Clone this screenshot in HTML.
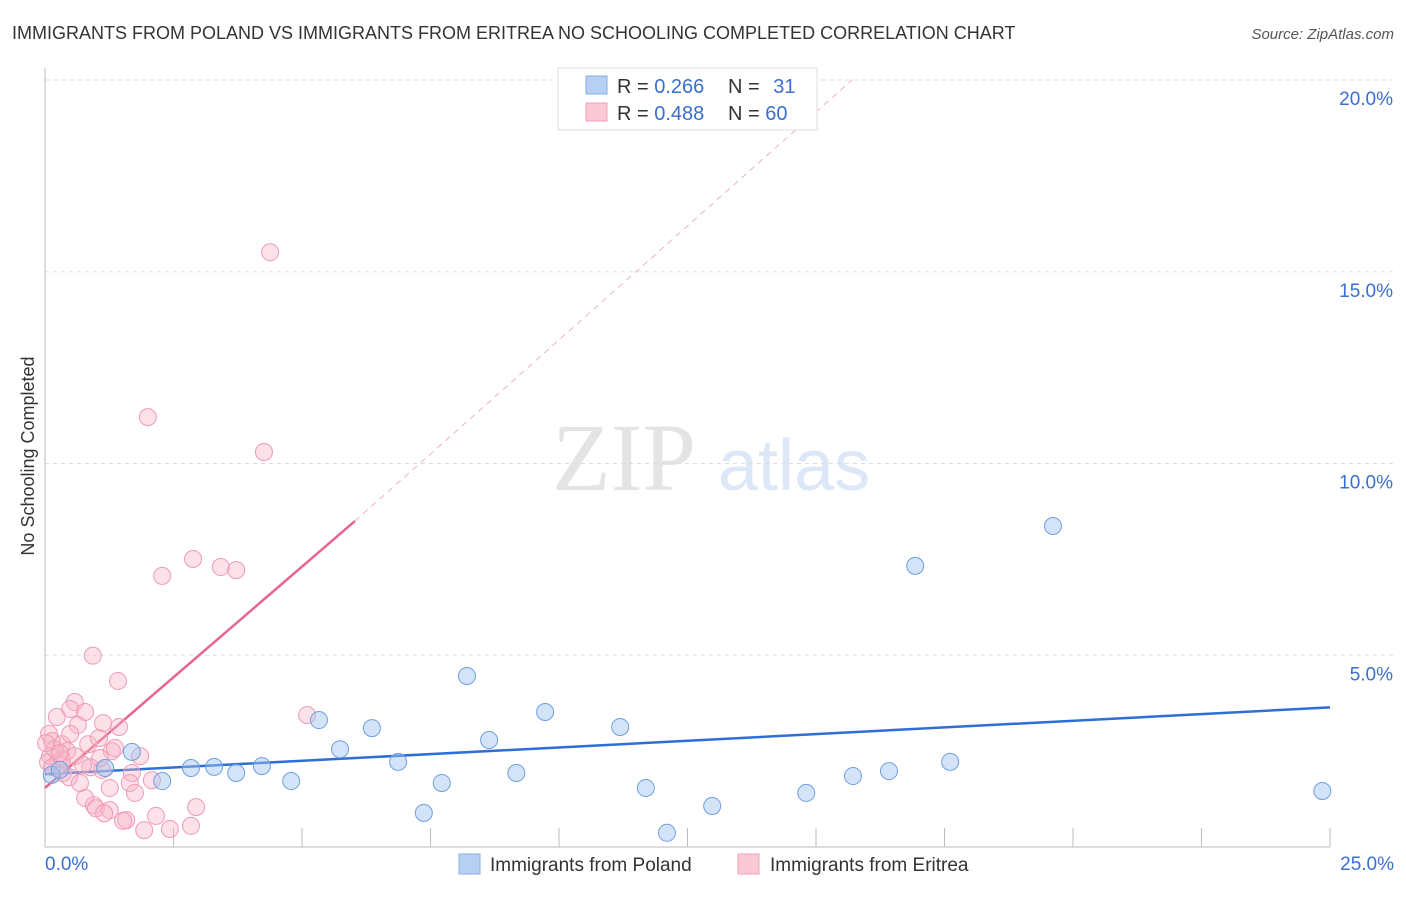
<!DOCTYPE html>
<html><head><meta charset="utf-8"><style>
body{margin:0;background:#fff;font-family:"Liberation Sans",sans-serif;}
svg text{font-family:"Liberation Sans",sans-serif;}
</style></head><body>
<svg id="chart" width="1406" height="892">
<text x="12" y="39" font-size="18" fill="#333">IMMIGRANTS FROM POLAND VS IMMIGRANTS FROM ERITREA NO SCHOOLING COMPLETED CORRELATION CHART</text>
<text x="1394" y="39" font-size="15" fill="#555" font-style="italic" text-anchor="end">Source: ZipAtlas.com</text>
<text x="34" y="456" font-size="18" fill="#333" text-anchor="middle" transform="rotate(-90 34 456)">No Schooling Completed</text>
<g>
<text x="552" y="490" font-size="96" fill="#e4e4e4" font-family="Liberation Serif" style="font-family:'Liberation Serif',serif">ZIP</text>
<text x="718" y="490" font-size="72" fill="#dce7f7">atlas</text>
</g>
<g id="grid"></g><g id="axes"></g><g id="lines"></g><g id="points"></g>
<g>
<rect x="558" y="68" width="259" height="62" fill="#fff" stroke="#ddd"/>
<rect x="586" y="76" width="21" height="18" fill="#b6d0f3" stroke="#84aee6"/>
<rect x="586" y="103" width="21" height="18" fill="#fbc8d6" stroke="#f0a0b8"/>
<text x="617" y="93" font-size="20" fill="#333">R = <tspan fill="#3a6fd0">0.266</tspan></text>
<text x="728" y="93" font-size="20" fill="#333">N = <tspan fill="#3a6fd0" dx="8">31</tspan></text>
<text x="617" y="120" font-size="20" fill="#333">R = <tspan fill="#3a6fd0">0.488</tspan></text>
<text x="728" y="120" font-size="20" fill="#333">N = <tspan fill="#3a6fd0">60</tspan></text>
</g>
<g>
<rect x="459" y="854" width="21" height="20" fill="#b6d0f3" stroke="#84aee6"/>
<text x="490" y="871" font-size="19" fill="#333">Immigrants from Poland</text>
<rect x="738" y="854" width="21" height="20" fill="#fbc8d6" stroke="#f0a0b8"/>
<text x="770" y="871" font-size="19" fill="#333">Immigrants from Eritrea</text>
</g>
</svg>
<script>
const yTicks=[5,10,15,20];
const yTickLabels=["5.0%","10.0%","15.0%","20.0%"];
const xTickLabels=["0.0%","25.0%"];
const polandX=[0.13,0.29,1.17,1.69,2.28,2.84,3.29,3.72,4.22,4.79,5.33,5.74,6.36,6.87,7.37,7.72,8.21,8.64,9.17,9.73,11.19,11.69,12.10,12.98,14.81,15.72,16.42,16.93,17.61,19.61,24.85];
const polandY=[1.88,2.01,2.06,2.48,1.72,2.06,2.09,1.93,2.11,1.72,3.31,2.55,3.10,2.22,0.89,1.67,4.46,2.79,1.93,3.52,3.13,1.54,0.37,1.07,1.41,1.85,1.98,7.33,2.22,8.37,1.46];
const eritreaX=[4.38,2.00,4.26,2.88,3.42,3.72,2.28,0.93,1.42,0.58,5.10,1.44,0.49,0.23,0.78,1.13,0.64,0.08,0.14,0.33,0.84,1.05,1.30,1.85,0.10,0.25,0.43,0.58,0.88,1.11,0.74,0.06,0.14,0.35,0.47,1.69,1.65,2.08,1.26,0.78,0.95,0.99,1.26,1.15,1.75,1.58,1.52,1.93,2.16,2.43,2.94,2.84,0.33,0.19,0.68,1.36,0.49,1.07,0.02,0.29];
const eritreaY=[15.51,11.21,10.30,7.51,7.30,7.22,7.07,4.99,4.33,3.78,3.44,3.13,3.60,3.39,3.52,3.23,3.18,2.95,2.76,2.68,2.68,2.84,2.50,2.37,2.37,2.21,2.50,2.37,2.08,2.01,2.14,2.21,2.08,1.93,1.82,1.93,1.67,1.74,1.54,1.28,1.09,1.01,0.96,0.88,1.41,0.70,0.68,0.44,0.81,0.47,1.04,0.55,2.29,2.55,1.67,2.58,2.95,2.32,2.71,2.45];
const polandTrend=[0,1.90,25,3.64];
const eritreaTrend=[0,1.54,6.03,8.50,15.7,20.0];
const X0=45,X1=1330,Y0=847,PXY=38.35;
const sx=v=>X0+(v/25)*(X1-X0), sy=v=>Y0-v*PXY;
const NS="http://www.w3.org/2000/svg";
function mk(tag,attrs,parent){const e=document.createElementNS(NS,tag);for(const k in attrs)e.setAttribute(k,attrs[k]);document.getElementById(parent).appendChild(e);return e;}
yTicks.forEach((t,i)=>{
 const g=mk('line',{x1:X0,x2:1394,y1:sy(t),y2:sy(t),stroke:'#ddd','stroke-dasharray':'4,4'},'grid');
 
 
 const l=mk('text',{x:1393,y:sy(t)+25,'font-size':19,fill:'#3a6fd0','text-anchor':'end'},'grid');
 l.textContent=yTickLabels[i];
 
 
});
const ax=mk('line',{x1:X0,x2:X0,y1:68,y2:Y0,stroke:'#bbb'},'axes');


const bx=mk('line',{x1:X0,x2:X1,y1:Y0,y2:Y0,stroke:'#bbb'},'axes');


for(let i=1;i<=10;i++){const t=mk('line',{x1:sx(i*2.5),x2:sx(i*2.5),y1:828,y2:Y0,stroke:'#bbb'},'axes');
 
 }
[[0,'start',45],[25,'end',1394]].forEach((d,i)=>{const t=mk('text',{x:d[2],y:870,'font-size':19,fill:'#3a6fd0','text-anchor':d[1]},'axes');t.textContent=xTickLabels[i];
 
 });
const pl=mk('line',{x1:sx(polandTrend[0]),y1:sy(polandTrend[1]),x2:sx(polandTrend[2]),y2:sy(polandTrend[3]),stroke:'#2e6fd6','stroke-width':2.5},'lines');


const el=mk('line',{x1:sx(eritreaTrend[0]),y1:sy(eritreaTrend[1]),x2:sx(eritreaTrend[2]),y2:sy(eritreaTrend[3]),stroke:'#e8658e','stroke-width':2.5},'lines');


const ed=mk('line',{x1:sx(eritreaTrend[2]),y1:sy(eritreaTrend[3]),x2:sx(eritreaTrend[4]),y2:sy(eritreaTrend[5]),stroke:'#eeb0c4','stroke-width':1,'stroke-dasharray':'6,5'},'lines');


eritreaX.forEach((v,i)=>{const c=mk('circle',{cx:sx(v),cy:sy(eritreaY[i]),r:8.5,fill:'rgba(248,180,200,0.4)',stroke:'#ef9ab4','stroke-width':1},'points');
 
 });
polandX.forEach((v,i)=>{const c=mk('circle',{cx:sx(v),cy:sy(polandY[i]),r:8.5,fill:'rgba(160,195,240,0.45)',stroke:'#6f9fe0','stroke-width':1},'points');
 
 });
</script>
</body></html>
